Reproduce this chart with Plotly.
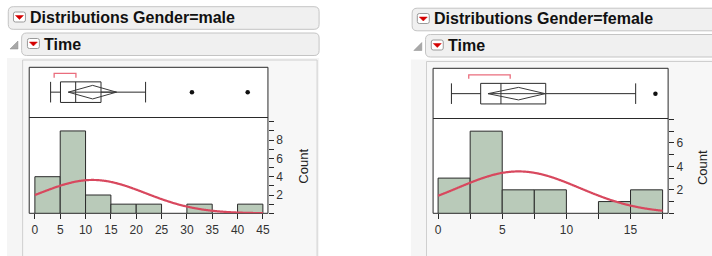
import numpy as np
import plotly.graph_objects as go

W, H = 712, 256

# ---------------- data ----------------
male_edges = [0, 5, 10, 15, 20, 25, 30, 35, 40, 45]
male_counts = [4, 9, 2, 1, 1, 0, 1, 0, 1]
male_xticks = [0, 5, 10, 15, 20, 25, 30, 35, 40, 45]
male_yticks = [2, 4, 6, 8]
male_box = dict(lw=3.1, q1=5.05, med=8.05, q3=13.05, uw=21.85)
male_outliers = [31.0, 42.0]
male_mean_ci = [6.6, 16.1]
male_mean = 11.4
male_sd = 10.4
male_shortest_half = [3.8, 8.1]

female_edges = [0, 2.5, 5, 7.5, 10, 12.5, 15, 17.5]
female_counts = [3, 7, 2, 2, 0, 1, 2]
female_xticks = [0, 5, 10, 15]
female_yticks = [2, 4, 6]
female_box = dict(lw=1.04, q1=3.32, med=4.9, q3=8.39, uw=15.4)
female_outliers = [16.94]
female_mean_ci = [3.89, 8.35]
female_mean = 6.27
female_sd = 4.75
female_shortest_half = [2.39, 5.62]

# ---------------- helpers ----------------
def px(x):
    return x / W


def py(y):
    return 1 - y / H


BAR_FILL = "#b9cab9"
EDGE = "#2a2a2a"
CURVE = "#d8485e"
BRACKET = "#ea6d7d"
FONT = "Liberation Sans"

fig = go.Figure()
shapes = []
annotations = []


def rounded(x0, y0, x1, y1, r, fill, line, width=1):
    p = (f"M {px(x0 + r)} {py(y0)} L {px(x1 - r)} {py(y0)} "
         f"Q {px(x1)} {py(y0)} {px(x1)} {py(y0 + r)} "
         f"L {px(x1)} {py(y1 - r)} Q {px(x1)} {py(y1)} {px(x1 - r)} {py(y1)} "
         f"L {px(x0 + r)} {py(y1)} Q {px(x0)} {py(y1)} {px(x0)} {py(y1 - r)} "
         f"L {px(x0)} {py(y0 + r)} Q {px(x0)} {py(y0)} {px(x0 + r)} {py(y0)} Z")
    shapes.append(dict(type="path", path=p, xref="paper", yref="paper",
                       fillcolor=fill, line=dict(color=line, width=width),
                       layer="below"))


def rect(x0, y0, x1, y1, fill=None, line=None, width=1, layer="below"):
    shapes.append(dict(type="rect", xref="paper", yref="paper",
                       x0=px(x0), x1=px(x1), y0=py(y1), y1=py(y0),
                       fillcolor=fill if fill else "rgba(0,0,0,0)",
                       line=dict(color=line if line else "rgba(0,0,0,0)", width=width if line else 0),
                       layer=layer))


def hline(x0, x1, y, color, width=1, layer="above"):
    shapes.append(dict(type="line", xref="paper", yref="paper",
                       x0=px(x0), x1=px(x1), y0=py(y), y1=py(y),
                       line=dict(color=color, width=width), layer=layer))


def red_icon(x0, y0):
    rounded(x0, y0, x0 + 12, y0 + 10, 2, "#ffffff", "#9a9a9a", 1)
    cx = x0 + 6
    tri = (f"M {px(cx - 4)} {py(y0 + 3.5)} L {px(cx + 4)} {py(y0 + 3.5)} "
           f"L {px(cx)} {py(y0 + 7.5)} Z")
    shapes.append(dict(type="path", path=tri, xref="paper", yref="paper",
                       fillcolor="#d40000", line=dict(color="#d40000", width=0.5),
                       layer="below"))


def disclosure(x0, y0):
    tri = (f"M {px(x0 + 8)} {py(y0)} L {px(x0 + 8)} {py(y0 + 8)} "
           f"L {px(x0)} {py(y0 + 8)} Z")
    shapes.append(dict(type="path", path=tri, xref="paper", yref="paper",
                       fillcolor="#a8a8a8", line=dict(color="#8c8c8c", width=0.5),
                       layer="below"))


def text(x, y, s, size, bold=False, anchor="left", angle=0, color="#111111"):
    annotations.append(dict(
        x=px(x), y=py(y), xref="paper", yref="paper",
        text=f"<b>{s}</b>" if bold else s, showarrow=False,
        xanchor=anchor, yanchor="middle", textangle=angle,
        font=dict(family=FONT, size=size, color=color)))


def panel(cfg):
    ox = cfg["ox"]
    dyo = cfg["dy"]
    # outer gray container & panel
    rect(ox + 7, 58 + dyo, ox + cfg["right"], 256, fill="#f5f5f5")
    rect(ox + 22.7, 60 + dyo, ox + cfg["right"] - 2, 258, fill="#f7f7f7", line="#cfcfcf")
    # headers
    rounded(ox + 8.3, 6.7 + dyo, ox + cfg["right"], 29.3 + dyo, 5, "#f0f0f0", "#c4c4c4")
    red_icon(ox + 13.5, 12 + dyo)
    text(ox + 28.5, 17.2 + dyo, cfg["title"], 16, bold=True)
    rounded(ox + 21.7, 33 + dyo, ox + cfg["right"], 55.5 + dyo, 5, "#f0f0f0", "#c4c4c4")
    disclosure(ox + 10, 41 + dyo)
    red_icon(ox + 27.5, 38.5 + dyo)
    text(ox + 42.5, 44 + dyo, "Time", 16, bold=True)


def dist(cfg, ax_hist, ax_box, edges, counts, xticks, yticks, minor_x,
         box, outliers, ci, mean, sd, sh):
    x0, x1 = cfg["x0"], cfg["x1"]
    ytop, ymid, ybot = cfg["ytop"], cfg["ymid"], cfg["ybot"]
    # white plot areas + frame
    rect(x0, ytop, x1, ybot, fill="#ffffff", line=EDGE, width=1)
    hline(x0, x1, ymid, EDGE, 1)

    # histogram bars
    e = np.array(edges, dtype=float)
    c = np.array(counts, dtype=float)
    centers = (e[:-1] + e[1:]) / 2
    widths = e[1:] - e[:-1]
    keep = c > 0
    xa, ya = ax_hist
    fig.add_trace(go.Bar(x=centers[keep], y=c[keep], width=widths[keep],
                         marker=dict(color=BAR_FILL, line=dict(color=EDGE, width=1)),
                         xaxis=xa, yaxis=ya, showlegend=False, hoverinfo="skip"))
    # fitted normal curve
    bw = widths[0]
    n = c.sum()
    xs = np.linspace(e[0], e[-1], 240)
    ys = n * bw * np.exp(-0.5 * ((xs - mean) / sd) ** 2) / (sd * np.sqrt(2 * np.pi))
    fig.add_trace(go.Scatter(x=xs, y=ys, mode="lines",
                             line=dict(color=CURVE, width=2.2, shape="spline"),
                             xaxis=xa, yaxis=ya, showlegend=False, hoverinfo="skip"))

    # box plot
    xb, yb = ax_box
    b0, b1, yc = cfg["b0"], cfg["b1"], cfg["yc"]
    d0, d1 = cfg["d0"], cfg["d1"]

    def seg(xv, yv, color=EDGE, width=1):
        fig.add_trace(go.Scatter(x=xv, y=yv, mode="lines", line=dict(color=color, width=width),
                                 xaxis=xb, yaxis=yb, showlegend=False, hoverinfo="skip"))

    seg([box["q1"], box["q3"], box["q3"], box["q1"], box["q1"]], [b0, b0, b1, b1, b0])
    seg([box["med"], box["med"]], [b0, b1])
    seg([box["lw"], box["q1"]], [yc, yc])
    seg([box["q3"], box["uw"]], [yc, yc])
    seg([box["lw"], box["lw"]], [b0, b1])
    seg([box["uw"], box["uw"]], [b0, b1])
    seg([ci[0], mean, ci[1], mean, ci[0]], [yc, d1, yc, d0, yc], color="#3a3a3a")
    seg([ci[0], ci[1]], [yc, yc], color="#3a3a3a")
    seg([sh[0], sh[0], sh[1], sh[1]], [cfg["br0"], cfg["br1"], cfg["br1"], cfg["br0"]],
        color=BRACKET, width=1.3)
    fig.add_trace(go.Scatter(x=outliers, y=[yc] * len(outliers), mode="markers",
                             marker=dict(color="#111111", size=4.5),
                             xaxis=xb, yaxis=yb, showlegend=False, hoverinfo="skip"))

    # axes
    xr = cfg["xrange"]
    dom_x = [px(x0), px(x1)]
    tickfont = dict(family=FONT, size=12, color="#333333")
    xname = "xaxis" + xa[1:]
    yname = "yaxis" + ya[1:]
    xbname = "xaxis" + xb[1:]
    ybname = "yaxis" + yb[1:]
    xaxis = dict(domain=dom_x, range=xr, anchor=ya, showgrid=False, zeroline=False,
                 showline=False, tickvals=xticks, ticks="outside", ticklen=5,
                 tickcolor=EDGE, tickwidth=1, tickfont=tickfont, fixedrange=True)
    if minor_x:
        xaxis["minor"] = dict(dtick=minor_x, tick0=0, ticks="outside", ticklen=5,
                              tickcolor=EDGE, tickwidth=1, showgrid=False)
    fig.update_layout(**{
        xname: xaxis,
        yname: dict(domain=[py(ybot), py(ymid)], range=[0, cfg["ymax"]], anchor=xa,
                    side="right", showgrid=False, zeroline=False, showline=False,
                    tickvals=yticks, ticks="outside", ticklen=5, tickcolor=EDGE,
                    tickwidth=1, tickfont=tickfont, fixedrange=True,
                    minor=dict(dtick=1, tick0=0, ticks="outside", ticklen=5,
                               tickcolor=EDGE, tickwidth=1, showgrid=False)),
        xbname: dict(domain=dom_x, range=xr, anchor=yb, matches=xa, visible=False,
                     fixedrange=True),
        ybname: dict(domain=[py(ymid), py(ytop)], range=[0, 1], anchor=xb,
                     visible=False, fixedrange=True),
    })
    text(cfg["count_x"], cfg["count_y"], "Count", 13, anchor="center", angle=-90,
         color="#222222")


male_cfg = dict(ox=0, dy=0, right=320, title="Distributions Gender=male")
female_cfg = dict(ox=405, dy=1.5, right=712 - 405 + 20, title="Distributions Gender=female")

panel(male_cfg)
panel(female_cfg)

dist(dict(x0=29.3, x1=268.7, ytop=67.3, ymid=117.5, ybot=213.3,
          xrange=[-1.12, 46.0], ymax=10.47,
          b0=0.30, b1=0.71, yc=0.505, d0=0.37, d1=0.64, br0=0.79, br1=0.88,
          count_x=304, count_y=166.5),
     ("x", "y"), ("x2", "y2"), male_edges, male_counts, male_xticks, male_yticks, None,
     male_box, male_outliers, male_mean_ci, male_mean, male_sd, male_shortest_half)

dist(dict(x0=434.3, x1=670, ytop=68.3, ymid=118.5, ybot=213.3,
          xrange=[-0.39, 17.93], ymax=8.08,
          b0=0.29, b1=0.70, yc=0.495, d0=0.37, d1=0.62, br0=0.79, br1=0.87,
          count_x=704, count_y=168),
     ("x3", "y3"), ("x4", "y4"), female_edges, female_counts, female_xticks, female_yticks, 2.5,
     female_box, female_outliers, female_mean_ci, female_mean, female_sd, female_shortest_half)

fig.update_layout(
    width=W, height=H,
    margin=dict(l=0, r=0, t=0, b=0),
    paper_bgcolor="#ffffff", plot_bgcolor="rgba(0,0,0,0)",
    bargap=0, showlegend=False,
    shapes=shapes, annotations=annotations,
)

fig.write_html(
    "out.html",
    config={"displayModeBar": False, "staticPlot": True},
    post_script="document.body.style.margin='0';document.body.style.padding='0';"
                "document.body.style.overflow='hidden';",
)
